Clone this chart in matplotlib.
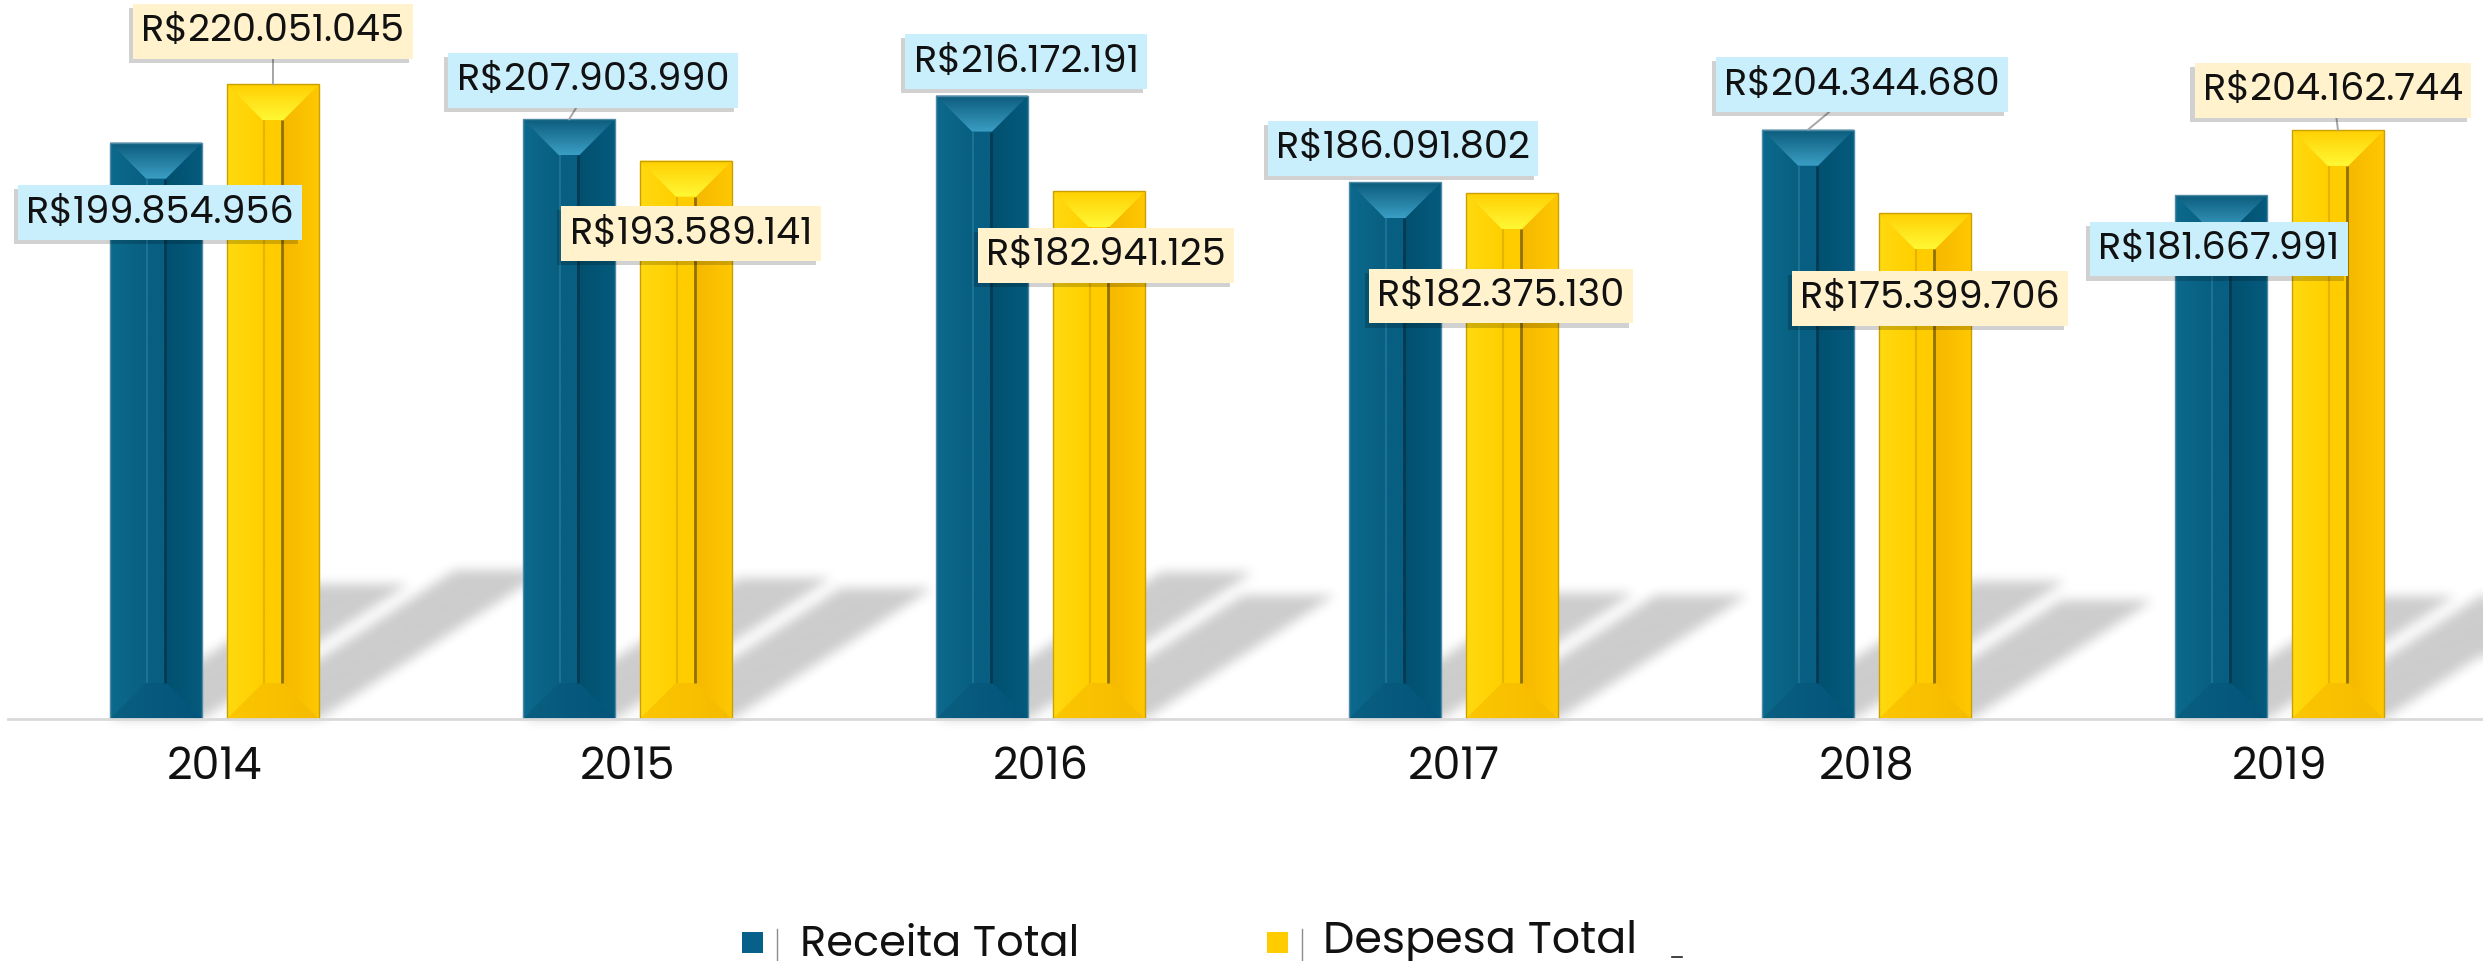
import numpy as np
import matplotlib
matplotlib.use('Agg')
import matplotlib.pyplot as plt
import matplotlib.patheffects as pe
from matplotlib.patches import Polygon, Rectangle
from matplotlib.lines import Line2D
from matplotlib.colors import to_rgb

years = ['2014', '2015', '2016', '2017', '2018', '2019']
receita = [199854956, 207903990, 216172191, 186091802, 204344680, 181667991]
despesa = [220051045, 193589141, 182941125, 182375130, 175399706, 204162744]
series_names = ['Receita Total', 'Despesa Total']

# where each value label sits, offset in pixels from the top centre of its bar
receita_offsets = [(4, -70), (24, 39), (44, 34), (8, 34), (54, 45), (-2, -54)]
despesa_offsets = [(0, 53), (5, -73), (7, -64), (-11, -103), (5, -85), (-5, 40)]
receita_leader = [False, True, False, False, True, False]
despesa_leader = [True, False, False, False, False, True]

W, H = 2483, 962
FONT = ['Poppins', 'Lato']

teal = dict(base='#07608a', left=('#0c6a8e', '#085f80'), right=('#02506f', '#055b7d'),
            top=('#0b5b7b', '#3b9ec4'), bottom=('#0a5f80', '#03547a'),
            inner='#075f82', inner_l='#1a7396', inner_r='#033a52', edge='#4f8aa5',
            box='#c9effd')
gold = dict(base='#ffcc00', left=('#ffd910', '#ffd000'), right=('#f5b800', '#ffc800'),
            top=('#ffcf00', '#fff835'), bottom=('#fcc600', '#f5bb00'),
            inner='#ffcc00', inner_l='#e6b300', inner_r='#8f7000', edge='#c9a000',
            box='#fff2cc')


def fmt_brl(v):
    return 'R$' + f'{v:,}'.replace(',', '.')


fig = plt.figure(figsize=(W / 100, H / 100), dpi=100)
ax = fig.add_axes([8 / W, 242 / H, 2478 / W, 721 / H])
ax.patch.set_visible(False)
ax.set_xlim(-0.5, 5.5)
ax.set_ylim(0, 250e6)

x = np.arange(len(years))
off, bw = 0.1416, 0.2228
bars_r = ax.bar(x - off, receita, bw, color=teal['base'], zorder=2)
bars_d = ax.bar(x + off, despesa, bw, color=gold['base'], zorder=2)

to_px = ax.transData
to_data = ax.transData.inverted()


def grad_fill(verts_px, c0, c1, direction, z=3):
    verts = to_data.transform(np.asarray(verts_px, float))
    poly = Polygon(verts, closed=True, facecolor='none', edgecolor='none', zorder=z)
    ax.add_patch(poly)
    t = np.linspace(0, 1, 64)[:, None]
    cols = (1 - t) * np.array(to_rgb(c0)) + t * np.array(to_rgb(c1))
    img = cols[:, None, :] if direction == 'v' else cols[None, :, :]
    xs, ys = verts[:, 0], verts[:, 1]
    im = ax.imshow(img, extent=(xs.min(), xs.max(), ys.min(), ys.max()), origin='lower',
                   aspect='auto', interpolation='bilinear', zorder=z)
    im.set_clip_path(poly)


def bevel_bar(rect, pal, d=36):
    (pl, pb), (pr, pt) = to_px.transform([(rect.get_x(), rect.get_y()),
                                          (rect.get_x() + rect.get_width(),
                                           rect.get_y() + rect.get_height())])
    il, ir, it, ib = pl + d, pr - d, pt - d, pb + d
    # side panels, horizontal shading
    grad_fill([(pl, pb), (pl, pt), (il, it), (il, ib)], *pal['left'], 'h')
    grad_fill([(ir, ib), (ir, it), (pr, pt), (pr, pb)], *pal['right'], 'h')
    # top bevel lightens towards the inner face, bottom bevel is darker
    grad_fill([(il, it), (ir, it), (pr, pt), (pl, pt)], pal['top'][1], pal['top'][0], 'v')
    grad_fill([(pl, pb), (pr, pb), (ir, ib), (il, ib)], *pal['bottom'], 'h')
    # recessed centre strip
    grad_fill([(il, ib), (il, it), (ir, it), (ir, ib)], pal['inner'], pal['inner'], 'h', z=4)
    for xx, c, lw in [(il + 1, pal['inner_l'], 1.5), (ir - 1, pal['inner_r'], 2.0)]:
        ln = np.array(to_data.transform([(xx, ib), (xx, it)]))
        ax.plot(ln[:, 0], ln[:, 1], color=c, lw=lw, zorder=5, solid_capstyle='butt')
    ax.add_patch(Rectangle((rect.get_x(), rect.get_y()), rect.get_width(), rect.get_height(),
                           facecolor='none', edgecolor=pal['edge'], lw=1.0, zorder=6))


# soft cast shadows behind every bar
alpha = np.zeros((H, W))
yy = np.arange(H)[:, None] + 0.5
xx = np.arange(W)[None, :] + 0.5
for rect in list(bars_r) + list(bars_d):
    (x0, yb), (x1, yt) = to_px.transform([(rect.get_x(), 0),
                                          (rect.get_x() + rect.get_width(), rect.get_height())])
    bh = yt - yb
    sh, sdx = 0.235 * bh, 0.36 * bh
    t = (yy - yb) / sh
    inside = (t >= 0) & (t <= 1) & (xx >= x0 + t * sdx) & (xx <= x1 + t * sdx)
    alpha[inside] = 1.0


def box_blur(a, r, axis):
    pad = [(0, 0), (0, 0)]
    pad[axis] = (r + 1, r)
    c = np.cumsum(np.pad(a, pad, mode='edge'), axis=axis)
    n = a.shape[axis]
    hi = np.take(c, np.arange(2 * r + 1, 2 * r + 1 + n), axis=axis)
    lo = np.take(c, np.arange(0, n), axis=axis)
    return (hi - lo) / (2 * r + 1)


for _ in range(3):
    alpha = box_blur(alpha, 5, 0)
    alpha = box_blur(alpha, 5, 1)
shadow = np.zeros((H, W, 4))
shadow[..., 3] = alpha * 0.2
fig.figimage(shadow, xo=0, yo=0, origin='lower', zorder=-1)

for rect in bars_r:
    bevel_bar(rect, teal)
for rect in bars_d:
    bevel_bar(rect, gold)

ax.set_xlim(-0.5, 5.5)
ax.set_ylim(0, 250e6)

# value labels
for xs, vals, offs, leads, pal in [(x - off, receita, receita_offsets, receita_leader, teal),
                                   (x + off, despesa, despesa_offsets, despesa_leader, gold)]:
    for xi, v, (dx, dy), lead in zip(xs, vals, offs, leads):
        arrow = dict(arrowstyle='-', color='#a6a6a6', lw=1.4, shrinkA=0, shrinkB=0) if lead else None
        t = ax.annotate(fmt_brl(v), xy=(xi, v), xytext=(dx, dy), textcoords='offset pixels',
                        ha='center', va='center', fontsize=27.5, family=FONT, color='#111111',
                        bbox=dict(boxstyle='square,pad=0.22', facecolor=pal['box'], edgecolor='none'),
                        arrowprops=arrow, zorder=10)
        t.get_bbox_patch().set_path_effects([
            pe.SimplePatchShadow(offset=(-3, -3), shadow_rgbFace='k', alpha=0.18),
            pe.Normal()])

ax.set_xticks(x, years)
ax.tick_params(axis='x', length=0, pad=19, labelsize=32)
for lbl in ax.get_xticklabels():
    lbl.set_family(FONT)
    lbl.set_color('#111111')
ax.set_yticks([])
for s in ['top', 'left', 'right']:
    ax.spines[s].set_visible(False)
ax.spines['bottom'].set_color('#d9d9d9')
ax.spines['bottom'].set_linewidth(2)
ax.spines['bottom'].set_zorder(7)

# legend along the bottom edge
legend_items = [(series_names[0], teal['base'], 742, 777, 800, 956, 31),
                (series_names[1], gold['base'], 1267, 1302, 1323, 953, 32)]
for name, col, sq_x, bar_x, tx, base, fs in legend_items:
    fig.patches.append(Rectangle((sq_x / W, (H - 954) / H), 21 / W, 21 / H, facecolor=col,
                                 edgecolor='none', transform=fig.transFigure, figure=fig))
    fig.add_artist(Line2D([bar_x / W, bar_x / W], [(H - 962) / H, (H - 930) / H],
                          color='#8c8c8c', lw=1.0))
    fig.text(tx / W, (H - base) / H, name, fontsize=fs, family=FONT, color='#111111',
             ha='left', va='baseline')
fig.add_artist(Line2D([1672 / W, 1682 / W], [(H - 958) / H, (H - 958) / H], color='#222222', lw=1.2))

fig.savefig('out.png', dpi=100)
